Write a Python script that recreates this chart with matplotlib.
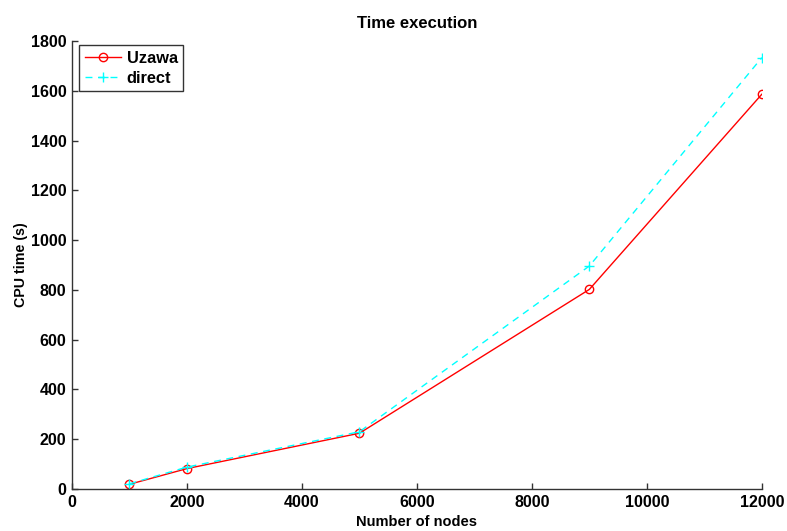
import matplotlib
matplotlib.use("Agg")
import matplotlib.pyplot as plt

nodes = [1000, 2000, 5000, 9000, 12000]
uzawa = [19, 82, 224, 802, 1586]
direct = [21, 88, 230, 896, 1733]
xticks = [0, 2000, 4000, 6000, 8000, 10000, 12000]
yticks = [0, 200, 400, 600, 800, 1000, 1200, 1400, 1600, 1800]

plt.rcParams['font.family'] = ['Liberation Sans', 'DejaVu Sans']
plt.rcParams['font.weight'] = 'bold'

fig = plt.figure(figsize=(7.87, 5.31), dpi=100)
ax = fig.add_axes([0.0915, 0.0791, 0.8765, 0.8437])

ax.plot(nodes, uzawa, color='red', lw=1.0, marker='o', ms=6, mfc='none', mec='red', mew=1.0, label='Uzawa')
ax.plot(nodes, direct, color='cyan', lw=1.0, ls=(0, (5, 4)), marker='+', ms=7, mew=1.0, label='direct')

ax.set_xlim(0, 12000)
ax.set_ylim(0, 1800)
ax.set_xticks(xticks)
ax.set_yticks(yticks)
ax.tick_params(direction='in', length=4, labelsize=11.5, width=1, color='#333333', pad=4)
for lab in ax.get_xticklabels() + ax.get_yticklabels():
    lab.set_fontweight('bold')
ax.spines['top'].set_visible(False)
ax.spines['right'].set_visible(False)
for s in ['left', 'bottom']:
    ax.spines[s].set_linewidth(1)
    ax.spines[s].set_color('#333333')

ax.set_title('Time execution', fontsize=12, fontweight='bold', pad=9)
ax.set_xlabel('Number of nodes', fontsize=10.5, fontweight='bold', labelpad=4)
ax.set_ylabel('CPU time (s)', fontsize=10.3, fontweight='bold', labelpad=2)

leg = ax.legend(loc='upper left', bbox_to_anchor=(0.0101, 0.991), borderaxespad=0,
                fontsize=11.8, frameon=True, fancybox=False,
                edgecolor='black', handlelength=2.2,
                borderpad=0.35, labelspacing=0.3, handletextpad=0.35, numpoints=1)
leg.get_frame().set_linewidth(1)
for t in leg.get_texts():
    t.set_fontweight('bold')

fig.savefig('out.png', dpi=100)
